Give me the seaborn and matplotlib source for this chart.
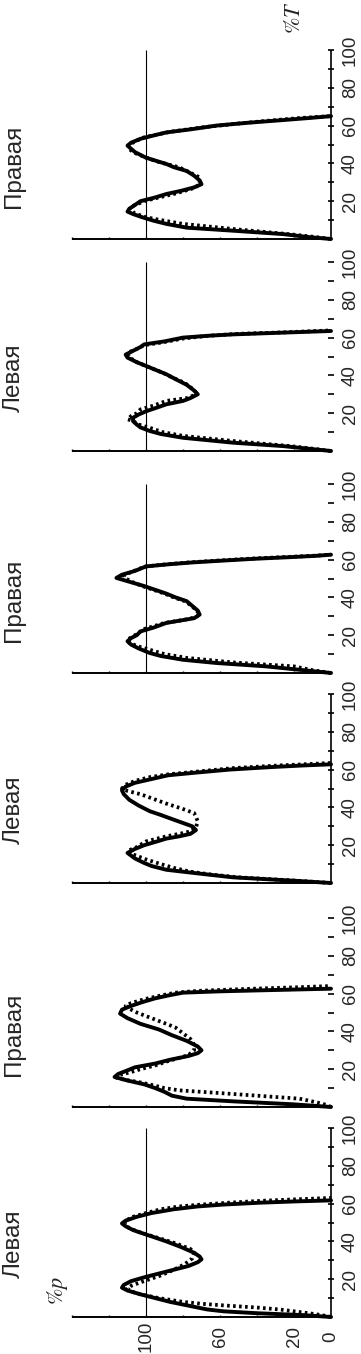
import numpy as np
import matplotlib
matplotlib.use("Agg")
import matplotlib.pyplot as plt
import seaborn as sns

sns.set_style("white")
plt.rcParams['font.family'] = ['Liberation Sans', 'DejaVu Sans']
plt.rcParams['mathtext.fontset'] = 'stix'

# panels from bottom to top, each curve is a list of (%T, %P)
panel_labels = ["Левая", "Правая", "Левая", "Правая", "Левая", "Правая"]

solid_1 = [(0,0),(1,15),(2,40),(3,58),(4,67),(6,77),(8,87),(10,95),(12,103),(14,110),(15.5,113),(17,112),
           (19,108),(21,101),(23,93),(25,85),(27,77),(29,72),(30.5,70),(32,71),(34,74),(37,81),(40,89),(43,98),
           (46,107),(48,111),(49.5,113),(51,111),(53,105),(55,97),(57,85),(58.5,72),(59.5,58),(60.5,38),
           (61.2,18),(61.7,0)]
dotted_1 = [(0,0),(1,5),(2,12),(3,20),(4,28),(5,40),(6,56),(7,70),(8,80),(10,93),(12,103),(13.5,108),(15,110),
            (16.5,108),(18,104),(20,98),(22,92),(25,85),(28,79),(31,75),(34,74),(36,76),(39,84),(42,94),(45,104),
            (47,109),(49,111.5),(51,111),(53,107),(55,100),(57,92),(58.5,82),(59.5,70),(60.5,55),(61.5,37),
            (62.3,18),(63,0)]

solid_2 = [(0,0),(1.4,20),(3,53),(4.4,78),(6,86),(8,90),(10,95),(12,101),(14,110),(15.9,117),(17.5,115),(19,111),
           (21,106),(23,95),(25,87),(27,77),(28.5,72),(30,70),(32,72),(35,78),(38,86),(41,93),(44,103),(47,110),
           (49.4,114),(51.5,113),(53.5,108),(55.5,102),(57.5,95),(59,88),(60.5,80),(61.2,60),(61.8,35),(62.6,0)]
dotted_2 = [(0,0),(1,2),(2.5,8),(4.4,17),(6,40),(7.5,62),(8.8,82),(10,90),(11.5,96),(13,103),(14.5,112),
            (15.5,116),(17,114),(18.5,108),(20,103),(22,95),(24,89),(26,82),(27.5,77),(30,74),(33,74),(36,76),
            (39,80),(42,84),(44,89),(47,97),(50,105),(52,109),(53.5,111),(55,108),(57,101),(59,92),(60.5,84),
            (61.5,71),(62.5,45),(63.3,20),(64,0)]

solid_3 = [(0,0),(1.2,20),(3,53),(5.3,74),(7,89),(9,97),(10.6,101),(13,106),(15.9,110),(18,106),(20,101),
           (22,94),(23.5,89),(24.7,82),(26,76),(28,73),(30,75),(33.5,85),(36,92),(38,98),(41,104),(44,109),
           (47,112),(49,113),(51,111),(53,106),(55,97),(57,88),(58.5,72),(60,55),(61.3,33),(62.2,15),(62.8,0)]
dotted_3 = [(0,0),(1.2,18),(3,50),(4.5,65),(6,76),(8,85),(10,92),(12.5,100),(15.5,108),(17,110),(19,105),
            (22,100),(24.7,89),(26,82),(27.3,76),(29.5,73),(32.6,72),(35,73),(37,74),(39.5,81),(42,89),(44.5,96),
            (47,103),(48.7,110),(50,113),(52,111),(54,106),(56,98),(57.5,88),(59,72),(60.8,53),(62.2,28),(63.5,0)]

solid_4 = [(0,0),(1.5,15),(3.5,35),(5.3,62),(7,80),(9,92),(10.6,98),(13,104),(15,108),(16.8,110),(18.5,108),
           (20,105),(22,103),(24,96),(26.5,89),(28,80),(29,74),(30.9,71),(33,72),(35.5,75),(38,78),(40,84),
           (42,89),(44,95),(46,101),(48,108),(50.3,116),(52,113),(54,106),(56.4,100),(57.5,88),(58.5,75),
           (59.5,58),(60.5,40),(61.3,22),(62,8),(62.6,0)]
dotted_4 = [(0,0),(1.5,10),(3.5,20),(5.6,53),(8,78),(10,90),(12.3,98),(14,104),(15.9,109),(17.6,110),
            (19.5,107),(21,104),(23,102),(25,95),(26.5,90),(28,80),(29.5,73),(31,71),(33.5,73),(36,76),(38,79),
            (40,85),(42,90),(44,96),(46,102),(48,107),(50,111),(51.5,112),(53,109),(55,104),(56.4,100),
            (57.5,89),(58.5,77),(59.5,61),(60.5,44),(61.3,26),(62,10),(62.6,0)]

solid_5 = [(0,0),(1,10),(2.6,26),(4.4,53),(7,80),(9,92),(10.6,98),(12.5,103),(14,105),(15.8,107),(17.6,107),
           (19.3,104),(21,100),(23,94),(24.7,89),(26.5,80),(28,76),(30,72),(32,74),(35,78),(38,84),(40.6,89),
           (43,95),(45,100),(47,105),(49.4,110),(51,111),(53,107),(55,103),(56.4,101),(58,90),(60,80),(61,66),
           (61.7,53),(62.5,30),(63.5,0)]
dotted_5 = [(0,0),(1,8),(2.6,22),(5.3,53),(8,80),(10,91),(12.3,98),(14,104),(15.9,107),(16.8,110),(18.5,108),
            (20,105),(22,103),(24,96),(26.5,89),(28,78),(29.5,74),(31,73),(33,75),(36,79),(39,86),(41,90),
            (43,95),(45,100),(47,105),(49.5,109),(52,110),(54,105),(56,101),(57.5,91),(59.5,80),(61,66),
            (62,50),(62.8,25),(63.8,0)]

solid_6 = [(0,0),(1,12),(2.6,26),(4.4,53),(6,78),(8,89),(9.7,96),(11.5,102),(13.2,107),(14.5,110),(16,109),
           (18,106),(20,103),(22,95),(23.8,89),(25.5,81),(27.3,74),(29,70),(31,71),(33.5,74),(36,78),(38,85),
           (39.7,89),(43,100),(46,106),(49.4,110),(51,108),(53,103),(55,95),(56.4,89),(58,76),(60,62),
           (61.5,45),(63,25),(64,12),(65,0)]
dotted_6 = [(0,0),(1,8),(2.3,20),(5.3,53),(8,80),(10,92),(11.5,100),(13.5,106),(15.9,109),(17.5,107),
            (20,101),(22,93),(23.8,85),(25.5,79),(27.3,73),(29.5,71),(32.6,71),(35,76),(37.9,82),(41,94),
            (43.5,101),(45.9,107),(48.5,110),(50.5,108),(52.5,104),(53.8,101),(55.5,93),(57,85),(59,70),
            (60.8,53),(62.5,35),(64,17),(65,0)]

solids = [solid_1, solid_2, solid_3, solid_4, solid_5, solid_6]
dotteds = [dotted_1, dotted_2, dotted_3, dotted_4, dotted_5, dotted_6]

t_ticks = np.arange(10, 101, 10)
t_labels = [20, 40, 60, 80, 100]
p_ticks = np.arange(0, 141, 20)
p_labels = [0, 20, 60, 100]

# which panels show the %T axis line and the 100 % reference line
has_t_axis = [True, False, True, False, False, True]
has_ref = [True, False, False, True, True, True]

W, H = 361, 1354
fig = plt.figure(figsize=(W / 100, H / 100), dpi=100)

axis_y = [1317, 1107, 883, 673, 451, 239]  # pixel row of P axis, from top
x0, x1 = 72, 331   # pixel columns of P=140 and P=0
t_h = 189          # pixels for 100 %T

for i in range(6):
    ax = fig.add_axes([x0 / W, (H - axis_y[i]) / H, (x1 - x0) / W, t_h / H])
    ax.set_xlim(140, 0)
    ax.set_ylim(0, 100)
    ax.axis('off')
    ax.patch.set_alpha(0)

    st, sp = zip(*solids[i])
    dt, dp = zip(*dotteds[i])
    sns.lineplot(x=list(dp), y=list(dt), ax=ax, sort=False, estimator=None, color='black',
                 lw=2.7, linestyle=(0, (0.7, 0.9)), clip_on=False)
    sns.lineplot(x=list(sp), y=list(st), ax=ax, sort=False, estimator=None, color='black',
                 lw=2.8, clip_on=False, solid_capstyle='round')

    # axes drawn by hand like the original
    ax.hlines(0, 0, 140, color='black', lw=1.4, clip_on=False)
    ax.vlines(p_ticks, 0, 1.3, color='black', lw=1.0, clip_on=False)
    ax.hlines(t_ticks, -1.4, 1.4, color='black', lw=1.2, clip_on=False)
    if has_t_axis[i]:
        ax.vlines(0, 0, 100, color='black', lw=1.2, clip_on=False)
    if has_ref[i]:
        ax.vlines(100, 0, 100, color='black', lw=0.8, clip_on=False)

    for t in t_labels:
        ax.text(-10.5, t, str(t), rotation=90, ha='center', va='center', fontsize=13.5, clip_on=False)

    ax.text(171.5, 38.5, panel_labels[i], rotation=90, ha='center', va='center', fontsize=17.5, clip_on=False)

    if i == 0:
        for p in p_labels:
            ax.text(p, -10.3, str(p), rotation=90, ha='center', va='center', fontsize=13.5, clip_on=False)
        ax.text(148, 14, r'$\%p$', rotation=90, ha='center', va='center', fontsize=16, clip_on=False)
    if i == 5:
        ax.text(19.5, 117, r'$\%T$', rotation=90, ha='center', va='center', fontsize=16, clip_on=False)

fig.savefig("out.png", dpi=100)
